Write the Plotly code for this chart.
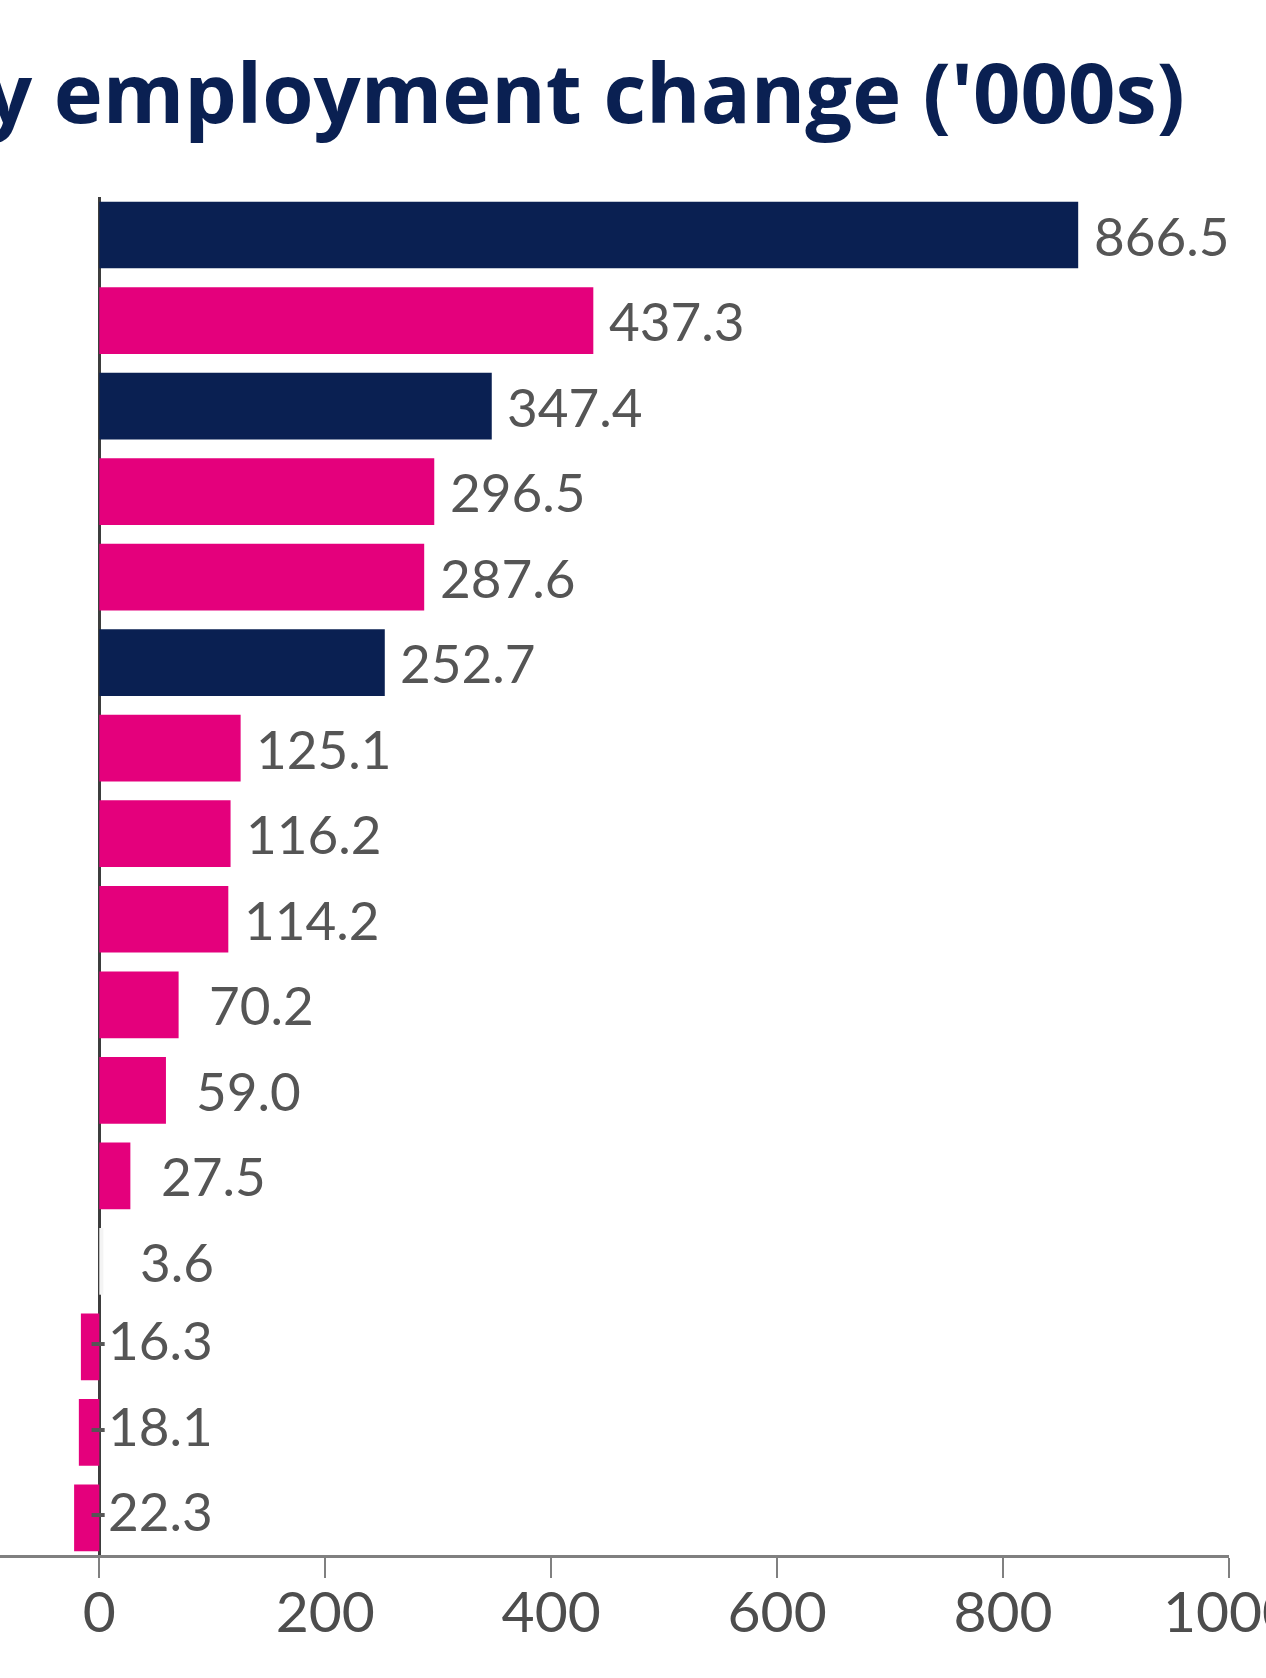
import plotly.graph_objects as go

# ---- data (top to bottom as shown) ----
categories = [f"Industry {i}" for i in range(1, 17)]
values = [866.5, 437.3, 347.4, 296.5, 287.6, 252.7, 125.1, 116.2, 114.2,
          70.2, 59.0, 27.5, 3.6, -16.3, -18.1, -22.3]
labels = ["866.5", "437.3", "347.4", "296.5", "287.6", "252.7", "125.1", "116.2",
          "114.2", "70.2", "59.0", "27.5", "3.6", "-16.3", "-18.1", "-22.3"]
groups = ["a", "b", "a", "b", "b", "a", "b", "b", "b", "b", "b", "b", "c", "b", "b", "b"]
x_ticks = [0, 200, 400, 600, 800, 1000]
title_text = "y employment change ('000s)"

# ---- styles ----
NAVY = "#0a2052"
MAGENTA = "#e4007c"
group_colors = {"a": NAVY, "b": MAGENTA, "c": "#f4f4f4"}
bar_colors = [group_colors[g] for g in groups]
FONT = "Lato"
LABEL_COLOR = "#555555"

W, H = 1266, 1678
margin = dict(l=0, r=37, t=197, b=123)
x_range = [-87.9, 1000]
plot_w = W - margin["l"] - margin["r"]
plot_h = H - margin["t"] - margin["b"]
px_per_unit = plot_w / (x_range[1] - x_range[0])

fig = go.Figure()

# negative-value labels drawn beneath the bars
neg_idx = [i for i, v in enumerate(values) if v < 0]
fig.add_trace(go.Scatter(
    x=[-11 / px_per_unit for _ in neg_idx],
    y=[categories[i] for i in neg_idx],
    text=[labels[i] for i in neg_idx],
    mode="text",
    textposition="middle right",
    textfont=dict(family=FONT, size=53, color=LABEL_COLOR),
    hoverinfo="skip",
    showlegend=False,
    cliponaxis=False,
))

fig.add_trace(go.Bar(
    x=values,
    y=categories,
    orientation="h",
    marker=dict(color=bar_colors, line=dict(width=0)),
    showlegend=False,
))

# positive-value labels
for i, (v, lab) in enumerate(zip(values, labels)):
    if v >= 0:
        fig.add_annotation(
            x=v, y=categories[i], xref="x", yref="y",
            text=lab, showarrow=False,
            xanchor="center", yanchor="middle",
            xshift=83 if len(lab) > 3 else 74,
            font=dict(family=FONT, size=53, color=LABEL_COLOR),
        )

# title (pixel position converted to paper coords)
title_left_px, title_bottom_px = -17, 149
fig.add_annotation(
    x=(title_left_px - margin["l"]) / plot_w,
    y=(H - margin["b"] - title_bottom_px) / plot_h,
    xref="paper", yref="paper",
    text=title_text, showarrow=False,
    font=dict(family="Open Sans", size=83, color=NAVY, weight="bold"),
    xanchor="left", yanchor="bottom",
)

first_center, spacing = 235.0, 85.53
top, bottom = margin["t"], H - margin["b"]
y_top = (top - first_center) / spacing
y_bottom = (bottom - first_center) / spacing

fig.update_layout(
    width=W, height=H,
    margin=margin,
    paper_bgcolor="white",
    plot_bgcolor="white",
    bargap=0.22,
    xaxis=dict(
        range=x_range,
        tickvals=x_ticks,
        ticktext=[str(t) for t in x_ticks],
        showgrid=False,
        zeroline=True, zerolinecolor="#3d3d3d", zerolinewidth=2.5,
        showline=True, linecolor="#808080", linewidth=3,
        ticks="outside", ticklen=20, tickwidth=2, tickcolor="#808080",
        tickfont=dict(family=FONT, size=57, color="#4d4d4d"),
        ticklabelstandoff=-14,
        ticklabeloverflow="allow",
        automargin=False,
    ),
    yaxis=dict(
        type="category",
        categoryorder="array", categoryarray=categories,
        range=[y_bottom, y_top],
        showticklabels=False, showgrid=False, zeroline=False, showline=False,
        ticks="", automargin=False,
    ),
)

fig.write_html("out.html", config={"displayModeBar": False},
               post_script="document.body.style.margin='0';")
